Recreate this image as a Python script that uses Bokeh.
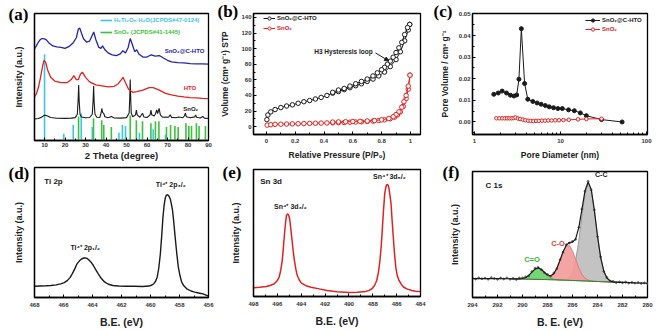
from bokeh.plotting import figure
from bokeh.layouts import column, row
from bokeh.models import (Range1d, Label, Legend, LegendItem, FixedTicker, SingleIntervalTicker,
                          NumeralTickFormatter, Arrow, NormalHead)
from bokeh.embed import file_html
from bokeh.resources import INLINE

SANS = "Liberation Sans"
SERIF = "Liberation Serif"
BLACK = "#1a1a1a"
RED = "#e3211f"
BLUE = "#2424a8"
CYAN = "#3cc6e6"
GREEN = "#3cc23c"

# ---------------- (a) XRD ----------------
xrd_c_x = [5, 6, 7, 8, 9, 10, 11, 12, 14, 16, 18, 20, 22, 24, 25.5, 26.5, 27.2, 28, 29, 30.5, 32, 33.2, 34, 35,
           36.5, 37.5, 38.3, 39.5, 41, 43, 45, 47, 48.2, 49.5, 50.8, 51.8, 52.8, 54, 55, 56, 58, 60, 62, 64, 66,
           68, 70, 72, 75, 78, 81, 84, 87, 90]
xrd_c_y = [73.1, 75.6, 78.7, 80.8, 81.5, 81.3, 80.2, 78.2, 75.6, 74.8, 74.4, 73.6, 75.2, 78.2, 82.1, 89.0, 89.8,
           85.9, 81.3, 78.7, 79.5, 83.8, 86.7, 80.8, 74.4, 73.6, 75.6, 72.5, 70.0, 68.5, 67.9, 69.2, 71.8, 70.0,
           74.4, 81.5, 76.9, 71.0, 72.5, 69.2, 66.7, 66.7, 68.5, 67.5, 67.9, 65.9, 64.1, 62.8, 62.3, 62.1, 61.5,
           61.3, 61.3, 61.0]
xrd_h_x = [5, 6, 7, 8, 9, 9.7, 10.5, 11.5, 13, 15, 18, 21, 23, 24.3, 25.5, 26.5, 27.5, 28.5, 30, 32, 35, 38, 41,
           44, 46, 47.5, 48.3, 49.5, 51, 53, 55, 58, 61, 63, 66, 69, 72, 75, 78, 81, 84, 87, 90]
xrd_h_y = [34.6, 37.2, 42.3, 50.0, 59.0, 64.0, 62.8, 56.4, 50.5, 47.5, 46.2, 46.2, 48.7, 51.8, 48.7, 48.7, 53.0,
           54.6, 50.5, 46.9, 44.4, 43.6, 42.8, 43.3, 45.4, 48.7, 50.5, 46.2, 41.0, 38.5, 39.0, 40.2, 42.3, 42.3,
           40.2, 37.7, 36.5, 35.5, 34.8, 34.3, 34.0, 33.7, 33.5]
xrd_s_x = [5, 7, 8.5, 10, 11.5, 13, 16, 20, 23, 25, 26, 26.4, 26.65, 26.9, 27.3, 28, 30, 32, 33.3, 33.7, 33.95,
           34.2, 34.6, 35.5, 37, 37.6, 37.95, 38.3, 38.95, 39.4, 41, 42.6, 44, 47, 50, 51.3, 51.6, 51.8, 52.0,
           52.3, 53, 54.4, 54.8, 55.2, 56.5, 57.8, 58.5, 60, 61.5, 61.9, 62.3, 63.5, 64.2, 64.7, 65.2, 65.9, 66.5,
           67.5, 69.3, 70.5, 71.3, 72, 74, 75.5, 77.5, 78.3, 78.7, 79.2, 81, 83.3, 83.7, 84.2, 86, 87.2, 88, 90]
xrd_s_y = [17.2, 17.6, 18.6, 20.3, 19.6, 18.4, 17.8, 17.7, 17.9, 18.3, 21.0, 33.0, 44.4, 32.0, 21.0, 18.8, 18.2,
           18.4, 21.0, 32.0, 43.6, 31.0, 21.0, 18.6, 18.4, 22.0, 25.6, 22.5, 21.5, 19.0, 18.2, 19.2, 18.0, 17.9,
           18.3, 22.0, 36.0, 48.7, 36.0, 22.0, 19.0, 20.5, 24.4, 20.5, 18.6, 21.8, 18.8, 18.4, 20.5, 24.4, 20.5,
           19.5, 21.5, 24.4, 21.5, 25.6, 20.5, 18.6, 18.8, 18.6, 20.5, 18.5, 18.2, 18.8, 18.2, 19.8, 21.8, 19.0,
           18.2, 18.9, 20.5, 18.6, 18.0, 19.2, 17.9, 17.6]
hto_ref_x = [10, 19.4, 24, 27.9, 33.3, 46.3, 48, 49.5, 56.3, 63, 69]
hto_ref_h = [69, 5.4, 12.3, 21.5, 10.8, 6.2, 12.3, 11.5, 6.2, 9, 4.6]
sno2_ref_x = [26.6, 33.9, 37.9, 38.9, 42.6, 51.8, 54.8, 57.8, 61.9, 64.1, 65.8, 69.5, 71.5, 73.6, 75.2, 79,
              80.4, 81.7, 84.1, 85.4, 88.5]
sno2_ref_h = [19.2, 17.7, 16.2, 12.3, 10.8, 20, 16.2, 15.4, 13.8, 15.4, 15.4, 10.8, 12.3, 11.5, 10.8, 13.8,
              11.5, 11.5, 13.8, 11.5, 11.5]

# ---------------- (b) N2 isotherm ----------------
b_c_ads_p = [0.003, 0.01, 0.03, 0.06, 0.1, 0.14, 0.18, 0.22, 0.26, 0.3, 0.34, 0.38, 0.42, 0.46, 0.5, 0.54, 0.58,
             0.62, 0.66, 0.7, 0.74, 0.78, 0.82, 0.86, 0.9, 0.93, 0.96, 0.985, 0.995]
b_c_ads_v = [9, 15, 19, 22, 24.5, 26.5, 28, 30, 32, 33.5, 35.5, 37.5, 40, 43, 45, 47.5, 50, 52.5, 55, 58, 61, 65,
             70, 77, 86, 96, 110, 124, 131]
b_c_des_p = [0.995, 0.98, 0.96, 0.94, 0.92, 0.9, 0.88, 0.86, 0.84, 0.82, 0.8, 0.77, 0.74, 0.7, 0.66, 0.62, 0.58,
             0.54, 0.5, 0.46]
b_c_des_v = [131, 127, 118, 108, 101, 95, 89, 84, 80, 76, 73, 69, 65, 61, 58, 55, 52, 49, 47, 44]
b_s_ads_p = [0.005, 0.03, 0.06, 0.1, 0.14, 0.18, 0.22, 0.26, 0.3, 0.34, 0.38, 0.42, 0.46, 0.5, 0.54, 0.58, 0.62,
             0.66, 0.7, 0.74, 0.78, 0.82, 0.86, 0.89, 0.91, 0.93, 0.95, 0.97, 0.985, 0.997]
b_s_ads_v = [2, 2.6, 3, 3.2, 3.4, 3.6, 3.8, 4, 4.2, 4.4, 4.6, 4.8, 5, 5.2, 5.4, 5.7, 6, 6.3, 6.7, 7.2, 7.9, 8.8,
             10.3, 12.3, 15, 19, 26, 36, 48, 66]
b_s_des_p = [0.997, 0.985, 0.97, 0.955, 0.94, 0.92, 0.9, 0.88, 0.85, 0.8, 0.75, 0.7, 0.65, 0.6, 0.55, 0.5, 0.46]
b_s_des_v = [66, 52, 40, 32, 25, 19, 15.5, 12.8, 10.5, 8.8, 7.9, 7.3, 6.9, 6.6, 6.3, 6.1, 5.9]

# ---------------- (c) pore size distribution ----------------
c_c_d = [1.68, 1.89, 2.10, 2.36, 2.62, 2.88, 3.1, 3.29, 3.51, 3.83, 4.17, 4.77, 5.35, 5.96, 6.67, 7.41, 8.31,
         9.33, 10.5, 12.4, 14.5, 17.0, 20.0, 30.0, 52.0]
c_c_v = [0.0128, 0.0134, 0.0143, 0.0134, 0.0124, 0.0120, 0.0125, 0.0198, 0.0432, 0.0178, 0.0105, 0.0095,
         0.0088, 0.0082, 0.0076, 0.0070, 0.0066, 0.0062, 0.0062, 0.0056, 0.0052, 0.0042, 0.0029, 0.0011, 0.0]
c_s_d = [1.8, 1.95, 2.1, 2.25, 2.4, 2.55, 2.7, 2.85, 3.0, 3.2, 3.4, 3.65, 3.9, 4.2, 4.5, 4.85, 5.2, 5.6, 6.1,
         6.6, 7.2, 7.9, 8.7, 9.6, 10.8, 12.5, 16.0, 20.0, 30.0]
c_s_v = [0.0017, 0.0017, 0.0017, 0.0017, 0.0017, 0.0017, 0.0017, 0.0018, 0.0021, 0.0016, 0.0014, 0.0011,
         0.0008, 0.0006, 0.0005, 0.0004, 0.0005, 0.0005, 0.0006, 0.0006, 0.0007, 0.0007, 0.0008, 0.0008,
         0.0009, 0.0010, 0.0012, 0.0014, 0.0015]

# ---------------- (d) Ti 2p ----------------
ti_be = [468.0, 467.6, 467.2, 466.87, 466.5, 466.2, 465.95, 465.74, 465.55, 465.4, 465.22, 465.07, 464.9,
         464.73, 464.6, 464.5, 464.38, 464.28, 464.1, 463.94, 463.78, 463.6, 463.4, 463.15, 462.9, 462.6, 462.2,
         461.7, 461.1, 460.56, 460.1, 459.9, 459.77, 459.65, 459.54, 459.43, 459.32, 459.23, 459.14, 459.06,
         458.98, 458.9, 458.82, 458.73, 458.64, 458.56, 458.48, 458.39, 458.3, 458.19, 458.08, 457.96, 457.85,
         457.7, 457.5, 457.2, 456.95, 456.6, 456.38, 456.0]
ti_int = [8.7, 8.9, 9.0, 9.2, 9.7, 10.5, 11.5, 13.0, 15.3, 18.2, 22.0, 25.9, 28.2, 29.8, 30.4, 30.5, 30.1, 29.2,
          27.2, 24.6, 21.4, 18.2, 14.8, 11.8, 10.2, 9.2, 8.9, 8.7, 8.6, 8.5, 8.8, 9.6, 10.6, 12.5, 15.6, 22.5,
          33.6, 47.0, 61.8, 71.0, 76.7, 78.8, 79.0, 78.0, 75.9, 72.0, 67.0, 57.5, 46.4, 34.0, 23.3, 16.5, 11.8,
          9.0, 6.7, 5.0, 4.1, 3.3, 2.8, 1.0]

# ---------------- (e) Sn 3d ----------------
sn_be = [498.0, 497.5, 496.93, 496.6, 496.26, 496.05, 495.85, 495.72, 495.59, 495.5, 495.4, 495.32, 495.24,
         495.13, 495.05, 494.97, 494.88, 494.78, 494.68, 494.57, 494.45, 494.33, 494.15, 493.98, 493.6, 493.17,
         492.5, 491.83, 491.0, 489.95, 489.3, 488.61, 488.3, 488.07, 487.85, 487.67, 487.53, 487.4, 487.29,
         487.19, 487.1, 487.0, 486.91, 486.82, 486.74, 486.66, 486.57, 486.47, 486.38, 486.28, 486.18, 486.07,
         485.95, 485.8, 485.6, 485.4, 485.1, 484.73, 484.4, 484.0]
sn_int = [6.8, 7.3, 7.9, 8.7, 10.0, 12.0, 15.2, 20.5, 28.3, 38.0, 49.4, 57.5, 63.8, 65.1, 64.0, 61.2, 54.0, 45.4,
          36.5, 28.3, 21.5, 16.5, 12.8, 10.5, 8.5, 7.3, 6.0, 4.7, 3.8, 3.1, 3.3, 3.9, 4.8, 6.1, 8.6, 12.6, 19.0,
          28.3, 40.0, 54.6, 68.0, 80.9, 86.0, 88.2, 88.0, 86.1, 80.5, 73.0, 60.0, 46.7, 34.0, 23.1, 16.5, 12.6,
          9.5, 7.3, 5.8, 4.7, 4.2, 3.9]

# ---------------- (f) C 1s ----------------
c1s_raw_be = [294.0, 293.75, 293.5, 293.25, 293.0, 292.75, 292.5, 292.25, 292.0, 291.75, 291.5, 291.25, 291.0,
              290.75, 290.5, 290.25, 290.0, 289.75, 289.5, 289.25, 289.0, 288.75, 288.5, 288.25, 288.0, 287.75,
              287.5, 287.25, 287.0, 286.75, 286.5, 286.25, 286.0, 285.75, 285.5, 285.25, 285.0, 284.75, 284.5,
              284.25, 284.0, 283.75, 283.5, 283.25, 283.0, 282.75, 282.5, 282.25, 282.0, 281.75, 281.5, 281.25,
              281.0, 280.75, 280.5, 280.25, 280.0]
c1s_raw_int = [15.3, 14.6, 15.6, 14.9, 15.4, 14.5, 15.8, 15.1, 14.4, 15.5, 14.7, 15.6, 14.5, 15.2, 14.3, 15.5,
               15.6, 16.4, 17.1, 20.6, 23.3, 23.9, 22.0, 19.6, 18.3, 16.8, 19.3, 22.8, 29.9, 36.0, 41.9, 43.2,
               44.5, 46.1, 55.6, 70.2, 84.3, 92.2, 85.3, 69.5, 48.4, 32.3, 20.7, 15.9, 13.0, 12.8, 11.8, 12.4,
               11.7, 12.3, 11.5, 12.0, 11.4, 11.9, 11.2, 11.6, 11.1]
c1s_env_be = [294.0, 293.0, 292.0, 291.0, 290.75, 290.5, 290.25, 290.0, 289.75, 289.5, 289.25, 289.0, 288.75,
              288.5, 288.25, 288.0, 287.75, 287.5, 287.25, 287.0, 286.75, 286.5, 286.25, 286.0, 285.75, 285.5,
              285.25, 285.0, 284.75, 284.5, 284.25, 284.0, 283.75, 283.5, 283.25, 283.0, 282.75, 282.5, 282.25,
              282.0, 281.0, 280.0]
c1s_env_int = [15.0, 15.0, 14.95, 14.9, 14.85, 14.82, 14.85, 15.1, 15.85, 17.55, 20.1, 22.5, 23.55, 22.45,
               20.04, 17.84, 17.19, 18.91, 23.2, 29.52, 36.37, 41.5, 43.6, 44.0, 46.5, 55.2, 69.8, 84.7, 91.7,
               85.74, 69.06, 48.8, 31.9, 21.1, 15.5, 13.25, 12.44, 12.2, 12.05, 12.0, 11.6, 11.3]
fit_be = [291.0, 290.75, 290.5, 290.25, 290.0, 289.75, 289.5, 289.25, 289.0, 288.75, 288.5, 288.25, 288.0,
          287.75, 287.5, 287.25, 287.0, 286.75, 286.5, 286.25, 286.0, 285.75, 285.5, 285.25, 285.0, 284.75,
          284.5, 284.25, 284.0, 283.75, 283.5, 283.25, 283.0, 282.75, 282.5, 282.25, 282.0]
fit_bg = [14.9, 14.85, 14.8, 14.75, 14.7, 14.6, 14.55, 14.5, 14.4, 14.35, 14.3, 14.25, 14.2, 14.1, 14.05, 14.0,
          13.9, 13.8, 13.7, 13.6, 13.5, 13.4, 13.3, 13.2, 13.1, 13.0, 12.9, 12.8, 12.7, 12.6, 12.5, 12.4, 12.3,
          12.2, 12.15, 12.05, 12.0]
fit_cc = [14.9, 14.85, 14.8, 14.75, 14.7, 14.6, 14.55, 14.5, 14.4, 14.35, 14.3, 14.25, 14.2, 14.1, 14.05, 14.0,
          13.9, 13.97, 14.4, 16.0, 20.4, 29.5, 44.9, 64.6, 82.5, 90.9, 85.5, 69.0, 48.8, 31.9, 21.1, 15.5, 13.25,
          12.44, 12.2, 12.05, 12.0]
fit_co = [14.9, 14.85, 14.8, 14.75, 14.7, 14.6, 14.55, 14.5, 14.4, 14.35, 14.35, 14.44, 14.84, 15.94, 18.51,
          23.1, 29.5, 36.2, 40.8, 41.2, 37.1, 30.4, 23.6, 18.4, 15.3, 13.8, 13.14, 12.86, 12.7, 12.6, 12.5, 12.4,
          12.3, 12.2, 12.15, 12.05, 12.0]
fit_cdo = [14.9, 14.85, 14.82, 14.85, 15.1, 15.85, 17.55, 20.1, 22.5, 23.55, 22.4, 19.85, 17.2, 15.35, 14.45,
           14.1, 13.92, 13.8, 13.7, 13.6, 13.5, 13.4, 13.3, 13.2, 13.1, 13.0, 12.9, 12.8, 12.7, 12.6, 12.5, 12.4,
           12.3, 12.2, 12.15, 12.05, 12.0]

panel_letters = ["(a)", "(b)", "(c)", "(d)", "(e)", "(f)"]


def make_fig(w, h, xr, yr, bl, br, bt, bb, letter, letter_dx, letter_standoff, **kw):
    p = figure(width=w, height=h, x_range=xr, y_range=yr, output_backend="svg", toolbar_location=None,
               min_border_left=bl, min_border_right=br, min_border_top=bt, min_border_bottom=bb, **kw)
    p.grid.visible = False
    p.outline_line_color = "black"
    p.outline_line_width = 1.3
    p.outline_line_alpha = 1
    p.background_fill_color = "white"
    p.border_fill_color = "white"
    # panel letter as the figure title, pulled beside the frame's top-left corner
    p.title.text = letter
    p.title.align = "left"
    p.title.offset = letter_dx
    p.title.standoff = letter_standoff
    p.title.text_font = SERIF
    p.title.text_font_style = "bold"
    p.title.text_font_size = "17px"
    p.title.text_color = "black"
    for ax in p.axis:
        ax.axis_line_color = "black"
        ax.axis_line_width = 1.3
        ax.major_tick_line_color = "black"
        ax.minor_tick_line_color = "black"
        ax.major_tick_in = 3
        ax.major_tick_out = 0
        ax.minor_tick_in = 2
        ax.minor_tick_out = 0
        ax.major_label_text_font = SANS
        ax.major_label_text_font_style = "bold"
        ax.major_label_text_font_size = "6px"
        ax.major_label_text_color = "#333333"
        ax.major_label_standoff = 2
        ax.axis_label_text_font = SANS
        ax.axis_label_text_font_style = "bold"
        ax.axis_label_text_color = "#222222"
        ax.axis_label_standoff = 2
    return p


def no_y_ticks(p, standoff, size):
    p.yaxis.ticker = FixedTicker(ticks=[])
    p.yaxis.axis_label_standoff = standoff
    p.yaxis.axis_label_text_font_size = size


def add_text(p, x, y, s, size, color="black", align="left", baseline="middle", font=SANS):
    p.add_layout(Label(x=x, y=y, text=s, text_font=font, text_font_style="bold", text_font_size=size,
                       text_color=color, text_align=align, text_baseline=baseline))


def add_legend(p, label, renderers, loc, color, glyph_width=12):
    lg = Legend(items=[LegendItem(label=label, renderers=renderers)], location=loc,
                label_text_font=SANS, label_text_font_style="bold", label_text_font_size="6px",
                label_text_color=color, background_fill_alpha=0, border_line_alpha=0, padding=0,
                margin=0, spacing=0, label_standoff=2, glyph_width=glyph_width, glyph_height=8,
                label_height=8, label_text_baseline="middle")
    p.add_layout(lg)


def xps_bottom(p, label):
    p.xaxis.ticker = SingleIntervalTicker(interval=2, num_minor_ticks=2)
    p.xaxis.axis_label = label
    p.xaxis.axis_label_text_font_size = "10.5px"
    p.xaxis.major_label_standoff = 5
    p.xaxis.axis_label_standoff = 6


# ======== (a) ========  canvas x 0-216, y 0-163
pa = make_fig(216, 163, Range1d(5.1, 90), Range1d(0, 101.5), 34, 8, 13, 20, panel_letters[0], -26, -20)
pa.xaxis.ticker = SingleIntervalTicker(interval=10, num_minor_ticks=2)
pa.xaxis.axis_label = "2 Theta (degree)"
pa.xaxis.axis_label_text_font_size = "9.5px"
pa.xaxis.major_label_standoff = 2
pa.xaxis.axis_label_standoff = 0
pa.yaxis.axis_label = "Intensity (a.u.)"
no_y_ticks(pa, 11, "9px")
r_hto = pa.segment(x0=hto_ref_x, y0=0, x1=hto_ref_x, y1=hto_ref_h, line_color=CYAN, line_width=1.6)
r_sno = pa.segment(x0=sno2_ref_x, y0=0, x1=sno2_ref_x, y1=sno2_ref_h, line_color=GREEN, line_width=1.6)
pa.line(xrd_s_x, xrd_s_y, line_color=BLACK, line_width=1.1)
pa.line(xrd_h_x, xrd_h_y, line_color=RED, line_width=1.3)
pa.line(xrd_c_x, xrd_c_y, line_color=BLUE, line_width=1.3)
add_legend(pa, "H₂Ti₂O₅·H₂O(JCPDS#47-0124)", [r_hto], (66, 116), CYAN)
add_legend(pa, "SnO₂ (JCPDS#41-1445)", [r_sno], (66, 104), GREEN)
add_text(pa, 88, 71.5, "SnO₂@C-HTO", "6px", BLUE, align="right")
add_text(pa, 84, 42, "HTO", "6px", RED, align="right")
add_text(pa, 85, 25.5, "SnO₂", "6px", BLACK, align="right")

# ======== (b) ========  canvas x 216-433, y 0-162
pb = make_fig(217, 162, Range1d(-0.09, 1.07), Range1d(-10, 145), 37, 13, 13, 25, panel_letters[1], -36, -15)
pb.xaxis.ticker = SingleIntervalTicker(interval=0.2, num_minor_ticks=2)
pb.yaxis.ticker = SingleIntervalTicker(interval=20, num_minor_ticks=2)
pb.xaxis.axis_label = "Relative Pressure (P/P₀)"
pb.yaxis.axis_label = "Volume (cm³ g⁻¹) STP"
pb.xaxis.axis_label_text_font_size = "8.5px"
pb.yaxis.axis_label_text_font_size = "8.5px"
pb.xaxis.major_label_standoff = 4
pb.xaxis.axis_label_standoff = 4
pb.yaxis.axis_label_standoff = 8
l1 = pb.line(b_c_ads_p, b_c_ads_v, line_color=BLACK, line_width=1)
s1 = pb.scatter(b_c_ads_p, b_c_ads_v, size=4.5, marker="circle", fill_color="white", line_color=BLACK,
                line_width=1)
pb.line(b_c_des_p, b_c_des_v, line_color=BLACK, line_width=1)
pb.scatter(b_c_des_p, b_c_des_v, size=4.5, marker="circle", fill_color="white", line_color=BLACK, line_width=1)
l2 = pb.line(b_s_ads_p, b_s_ads_v, line_color=RED, line_width=1)
s2 = pb.scatter(b_s_ads_p, b_s_ads_v, size=4.5, marker="circle", fill_color="white", line_color=RED,
                line_width=1)
pb.line(b_s_des_p, b_s_des_v, line_color=RED, line_width=1)
pb.scatter(b_s_des_p, b_s_des_v, size=4.5, marker="circle", fill_color="white", line_color=RED, line_width=1)
add_legend(pb, "SnO₂@C-HTO", [l1, s1], (10, 111.7), BLACK)
add_legend(pb, "SnO₂", [l2, s2], (10, 101.7), RED)
add_text(pb, 0.535, 96.5, "H3 Hysteresis loop", "6.5px", BLACK, align="center")
pb.add_layout(Arrow(end=NormalHead(size=4, fill_color=BLACK, line_color=BLACK), x_start=0.757, y_start=94.5,
                    x_end=0.849, y_end=84.4, line_color=BLACK, line_width=1))

# ======== (c) ========  canvas x 433-659, y 0-162
pc = make_fig(226, 162, Range1d(0.95, 102.6), Range1d(-0.0058, 0.0502), 39, 10, 13, 25, panel_letters[2],
              -39, -15, x_axis_type="log")
pc.xaxis.ticker = FixedTicker(ticks=[1, 10, 100],
                              minor_ticks=[2, 3, 4, 5, 6, 7, 8, 9, 20, 30, 40, 50, 60, 70, 80, 90])
pc.xaxis.formatter = NumeralTickFormatter(format="0")
pc.yaxis.ticker = SingleIntervalTicker(interval=0.01, num_minor_ticks=2)
pc.yaxis.formatter = NumeralTickFormatter(format="0.00")
pc.xaxis.axis_label = "Pore Diameter (nm)"
pc.yaxis.axis_label = "Pore Volume / cm³ g⁻¹"
pc.xaxis.axis_label_text_font_size = "8.5px"
pc.yaxis.axis_label_text_font_size = "8.5px"
pc.xaxis.major_label_standoff = 4
pc.xaxis.axis_label_standoff = 4
pc.yaxis.axis_label_standoff = 6
l3 = pc.line(c_c_d, c_c_v, line_color=BLACK, line_width=1)
s3 = pc.scatter(c_c_d, c_c_v, size=4, marker="circle", fill_color=BLACK, line_color=BLACK)
l4 = pc.line(c_s_d, c_s_v, line_color=RED, line_width=1)
s4 = pc.scatter(c_s_d, c_s_v, size=3.5, marker="circle", fill_color="white", line_color=RED, line_width=1)
add_legend(pc, "SnO₂@C-HTO", [l3, s3], (113, 110.3), BLACK, glyph_width=15)
add_legend(pc, "SnO₂", [l4, s4], (113, 101), RED, glyph_width=15)

# ======== (d) ========  canvas x 0-216, y 163-331
pd = make_fig(216, 168, Range1d(468, 456), Range1d(0, 100), 33, 5, 4, 34, panel_letters[3], -26, -30)
xps_bottom(pd, "B.E. (eV)")
pd.yaxis.axis_label = "Intensity (a.u.)"
no_y_ticks(pd, 11, "9px")
pd.line(ti_be, ti_int, line_color=BLACK, line_width=1.4)
add_text(pd, 467.33, 89.2, "Ti 2p", "8px", BLACK)
add_text(pd, 458.6, 84.6, "Ti⁴⁺ 2p₃/₂", "7px", BLACK, align="center", baseline="bottom")
add_text(pd, 464.5, 35.5, "Ti⁴⁺ 2p₁/₂", "7px", BLACK, align="center", baseline="bottom")

# ======== (e) ========  canvas x 216-433, y 162-331
pe = make_fig(217, 169, Range1d(498, 484), Range1d(0, 100), 37, 6, 7, 35, panel_letters[4], -31, -24)
xps_bottom(pe, "B.E. (eV)")
pe.yaxis.axis_label = "Intensity (a.u.)"
no_y_ticks(pe, 13, "9px")
pe.line(sn_be, sn_int, line_color=RED, line_width=1.5)
add_text(pe, 497.44, 90.5, "Sn 3d", "8px", BLACK)
add_text(pe, 486.6, 92.0, "Sn⁴⁺ 3d₅/₂", "7px", BLACK, align="center", baseline="bottom")
add_text(pe, 494.9, 68.5, "Sn⁴⁺ 3d₃/₂", "7px", BLACK, align="center", baseline="bottom")

# ======== (f) ========  canvas x 433-659, y 162-331
pf = make_fig(226, 169, Range1d(294, 280), Range1d(0, 100), 39, 12, 9, 34, panel_letters[5], -30, -20)
xps_bottom(pf, "B. E. (eV)")
pf.yaxis.axis_label = "Intensity (a.u.)"
no_y_ticks(pf, 13, "9px")
pf.varea(x=fit_be, y1=fit_bg, y2=fit_cc, fill_color="#bdbdbd", fill_alpha=0.9)
pf.line(fit_be, fit_cc, line_color="#8a8a8a", line_width=0.8)
pf.varea(x=fit_be, y1=fit_bg, y2=fit_co, fill_color="#f49a9a", fill_alpha=0.9)
pf.line(fit_be, fit_co, line_color="#e86a6a", line_width=0.8)
pf.varea(x=fit_be, y1=fit_bg, y2=fit_cdo, fill_color="#6fd36f", fill_alpha=0.95)
pf.line(fit_be, fit_cdo, line_color="#3bb33b", line_width=0.8)
pf.line(fit_be, fit_bg, line_color="#3a7a3a", line_width=1)
pf.scatter(c1s_raw_be, c1s_raw_int, size=1.8, marker="circle", fill_color="#666666", line_color="#666666")
pf.line(c1s_env_be, c1s_env_int, line_color=BLACK, line_width=1.2)
add_text(pf, 292.96, 88.9, "C 1s", "8px", BLACK)
add_text(pf, 284.2, 98.0, "C-C", "7px", BLACK)
add_text(pf, 287.16, 42.9, "C-O", "7.5px", "#e83838", align="center")
add_text(pf, 289.24, 30.2, "C=O", "7.5px", "#2dbb2d", align="center")

layout = row(column(pa, pd, spacing=0), column(pb, pe, spacing=0), column(pc, pf, spacing=0), spacing=0)

with open("out.html", "w") as f:
    f.write(file_html(layout, INLINE))
